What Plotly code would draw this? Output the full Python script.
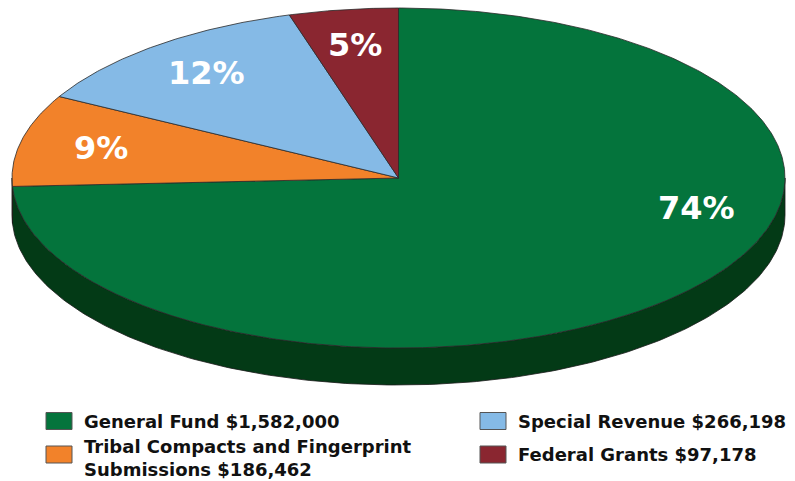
import numpy as np
import plotly.graph_objects as go

# ---- data ----
categories = ["General Fund", "Tribal Compacts and Fingerprint Submissions",
              "Special Revenue", "Federal Grants"]
values = [1582000, 186462, 266198, 97178]
legend_labels = ["General Fund $1,582,000",
                 "Tribal Compacts and Fingerprint<br>Submissions $186,462",
                 "Special Revenue $266,198",
                 "Federal Grants $97,178"]
top_colors = ["#04743c", "#f2822a", "#85bae6", "#8a2630"]
side_colors = ["#033a16", "#9a4d10", "#4f7ea8", "#561419"]
label_angle_override = [103, None, None, None]

# ---- geometry (pixel space) ----
W, H = 795, 481
cx, cy = 398.5, 178
rx, ry = 386.5, 170
depth = 37
label_r = 0.79

total = sum(values)
fracs = [v / total for v in values]
pcts = [f"{round(f * 100)}%" for f in fracs]


def pt(theta_deg, dy=0.0):
    t = np.radians(theta_deg)
    return cx + rx * np.sin(t), cy - ry * np.cos(t) + dy


fig = go.Figure()

# slice angular extents (clockwise from 12 o'clock)
bounds = []
a = 0.0
for f in fracs:
    bounds.append((a, a + f * 360))
    a += f * 360

# side walls (visible front half: 90..270 deg)
for (a0, a1), col in zip(bounds, side_colors):
    s0, s1 = max(a0, 90), min(a1, 270)
    if s1 <= s0:
        continue
    th = np.linspace(s0, s1, 200)
    xt, yt = pt(th)
    xb, yb = pt(th[::-1], depth)
    fig.add_trace(go.Scatter(x=np.r_[xt, xb, xt[0]], y=np.r_[yt, yb, yt[0]],
                             fill="toself", fillcolor=col, mode="lines",
                             line=dict(color="#1a1a1a", width=0.8),
                             hoverinfo="skip", showlegend=False))

# top faces
for (a0, a1), col, name in zip(bounds, top_colors, categories):
    th = np.linspace(a0, a1, max(int((a1 - a0) * 2), 10))
    xe, ye = pt(th)
    fig.add_trace(go.Scatter(x=np.r_[cx, xe, cx], y=np.r_[cy, ye, cy],
                             fill="toself", fillcolor=col, mode="lines",
                             line=dict(color="#2a2a2a", width=0.8),
                             name=name, hoverinfo="skip", showlegend=False))

# percentage labels
for (a0, a1), p, ov in zip(bounds, pcts, label_angle_override):
    ang = ov if ov is not None else (a0 + a1) / 2
    t = np.radians(ang)
    lx = cx + label_r * rx * np.sin(t)
    ly = cy - label_r * ry * np.cos(t)
    fig.add_annotation(x=lx, y=ly, text=p, showarrow=False,
                       font=dict(family="DejaVu Sans", size=32, color="white", weight="bold"),
                       xanchor="center", yanchor="middle")

# legend (two columns)
leg_pos = [(46, 421), (46, 454.5), (480, 421), (480, 454.5)]
for (lx, ly), lab, col in zip(leg_pos, legend_labels, top_colors):
    fig.add_shape(type="rect", x0=lx, x1=lx + 26, y0=ly - 8.5, y1=ly + 8.5,
                  fillcolor=col, line=dict(color="#555555", width=1))
    nlines = lab.count("<br>") + 1
    fig.add_annotation(x=lx + 36, y=ly + (nlines - 1) * 3.5, text=lab, showarrow=False,
                       xanchor="left", yanchor="middle", align="left",
                       font=dict(family="DejaVu Sans", size=18, color="#111111",
                                 weight="bold"))

fig.update_layout(
    width=W, height=H, margin=dict(l=0, r=0, t=0, b=0),
    paper_bgcolor="white", plot_bgcolor="white", showlegend=False,
    xaxis=dict(range=[0, W], visible=False, fixedrange=True),
    yaxis=dict(range=[H, 0], visible=False, fixedrange=True),
)

fig.write_html("out.html")
